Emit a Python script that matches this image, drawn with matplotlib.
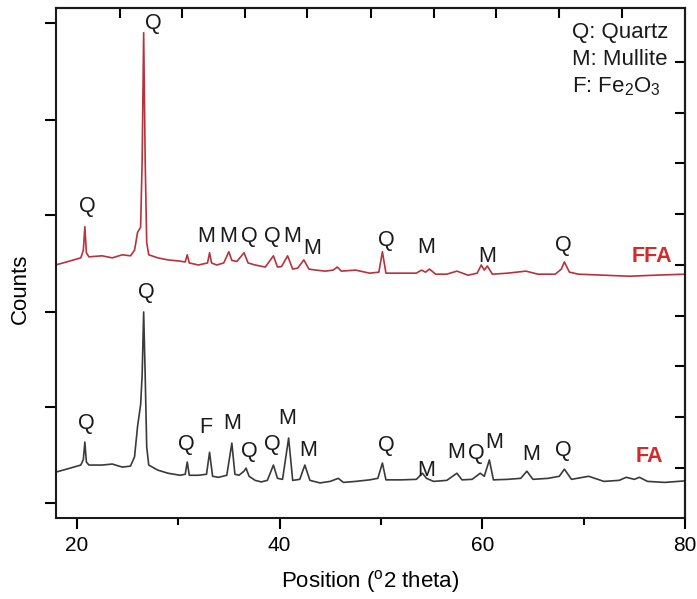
import numpy as np
import matplotlib
matplotlib.use("Agg")
import matplotlib.pyplot as plt

plt.rcParams['font.family'] = ['Liberation Sans', 'DejaVu Sans']
plt.rcParams['mathtext.fontset'] = 'custom'
plt.rcParams['mathtext.rm'] = 'Liberation Sans'
plt.rcParams['mathtext.it'] = 'Liberation Sans'

# XRD traces, 2 theta vs counts (arbitrary units)
ffa_x = [17.9, 19.0, 20.4, 20.65, 20.8, 20.95, 21.2, 22.5, 23.5, 24.5, 25.3, 25.7, 26.0, 26.3,
         26.45, 26.6, 26.75, 26.9, 27.1, 28.0, 29.0, 30.0, 30.7, 30.9, 31.1, 32.0, 32.9, 33.1,
         33.3, 33.8, 34.5, 35.0, 35.3, 35.8, 36.5, 36.9, 37.6, 38.6, 39.4, 39.8, 40.2, 40.8,
         41.3, 41.8, 42.4, 42.9, 43.6, 44.5, 45.3, 45.7, 46.1, 47.5, 48.9, 49.8, 50.15, 50.5,
         52.0, 53.5, 54.0, 54.4, 54.8, 55.4, 56.5, 57.5, 58.6, 59.5, 59.9, 60.2, 60.5, 61.0,
         62.5, 64.3, 65.5, 67.2, 67.8, 68.1, 68.6, 69.5, 72.0, 74.5, 77.0, 80.0]
ffa_y = [49.6, 50.2, 51.0, 52.5, 57.1, 52.0, 51.2, 51.4, 51.0, 51.6, 51.4, 52.5, 56.0, 57.0,
         70.0, 95.1, 70.0, 54.0, 51.6, 51.0, 50.6, 50.4, 50.2, 51.6, 50.0, 49.6, 50.0, 52.0,
         50.0, 49.6, 50.0, 52.2, 50.5, 50.3, 52.0, 50.0, 49.6, 49.2, 51.4, 49.2, 49.3, 51.4,
         48.8, 49.0, 50.6, 48.8, 48.6, 48.4, 48.6, 49.2, 48.4, 48.6, 48.0, 48.2, 52.2, 48.0,
         48.0, 48.0, 48.6, 48.2, 48.8, 47.8, 47.8, 48.4, 47.6, 48.0, 49.6, 48.6, 49.4, 47.8,
         48.0, 48.4, 47.8, 47.8, 48.8, 50.2, 48.2, 47.8, 47.6, 47.4, 47.6, 47.8]

fa_x = [17.9, 19.0, 20.4, 20.65, 20.8, 20.95, 21.2, 22.5, 23.5, 24.5, 25.3, 25.7, 26.0, 26.3,
        26.45, 26.6, 26.75, 26.9, 27.1, 28.0, 29.0, 30.2, 30.7, 30.9, 31.1, 32.0, 32.8, 33.1,
        33.4, 34.0, 34.8, 35.3, 35.6, 36.0, 36.5, 36.7, 37.0, 37.6, 38.2, 38.8, 39.4, 39.8,
        40.3, 40.9, 41.3, 42.0, 42.5, 43.0, 44.0, 45.0, 45.8, 46.3, 47.5, 48.9, 49.7, 50.15,
        50.5, 52.0, 53.5, 54.1, 54.5, 55.2, 56.5, 57.5, 58.0, 59.0, 59.8, 60.2, 60.7, 61.1,
        62.5, 63.8, 64.4, 65.0, 66.5, 67.6, 68.1, 68.8, 70.5, 72.0, 73.5, 74.2, 75.0, 75.5,
        76.3, 78.0, 80.0]
fa_y = [9.0, 9.6, 10.4, 11.5, 14.9, 11.0, 10.4, 10.4, 10.6, 10.0, 10.2, 12.0, 18.0, 22.2,
        28.0, 40.4, 28.0, 14.0, 10.4, 9.4, 8.8, 8.4, 8.6, 11.0, 8.4, 8.4, 8.6, 12.9,
        8.2, 8.0, 8.4, 14.7, 8.6, 8.4, 9.2, 9.8, 8.2, 7.4, 7.1, 7.4, 10.4, 7.8,
        7.6, 15.7, 7.4, 7.6, 10.4, 7.4, 6.9, 7.2, 7.8, 7.0, 7.2, 7.5, 7.8, 10.8,
        7.5, 7.5, 7.6, 8.8, 7.8, 7.2, 7.4, 8.8, 7.5, 7.6, 8.8, 8.2, 11.4, 7.5,
        7.6, 7.8, 9.2, 7.6, 7.8, 8.2, 9.6, 7.6, 8.2, 7.2, 7.4, 8.0, 7.6, 8.0,
        7.2, 7.0, 7.3]

# phase labels: (text, 2 theta, counts)
ffa_labels = [('Q', 21.0, 61.0), ('Q', 27.6, 96.9), ('M', 32.8, 55.1), ('M', 34.9, 55.1),
              ('Q', 37.0, 55.1), ('Q', 39.3, 55.1), ('M', 41.3, 55.1), ('M', 43.2, 52.9),
              ('Q', 50.5, 54.4), ('M', 54.5, 53.1), ('M', 60.5, 51.2), ('Q', 68.0, 53.5)]
fa_labels = [('Q', 20.9, 18.6), ('Q', 26.9, 44.3), ('Q', 30.8, 14.5), ('F', 32.7, 17.8),
             ('M', 35.3, 18.6), ('Q', 37.0, 13.1), ('Q', 39.3, 14.5), ('M', 40.8, 19.6),
             ('M', 42.8, 13.3), ('Q', 50.5, 14.3), ('M', 54.5, 9.4), ('M', 57.4, 12.9),
             ('Q', 59.4, 12.7), ('M', 61.2, 14.9), ('M', 64.8, 12.4), ('Q', 68.0, 13.3)]

key_lines = ['Q: Quartz', 'M: Mullite', r'F: Fe$_2$O$_3$']

left_ticks = [2.9, 21.8, 40.4, 59.4, 78.0, 97.1]
right_ticks = [9.8, 19.8, 29.8, 39.6, 49.6, 59.6, 69.6, 79.4, 89.4]
top_ticks = [24.24, 30.39, 36.55, 42.71, 49.06, 55.27, 61.38, 67.59, 73.79]

fig = plt.figure(figsize=(6.97, 5.99), dpi=100)
ax = fig.add_axes([0.0803, 0.135, 0.9025, 0.852])

ax.plot(ffa_x, ffa_y, color='#b8323c', lw=1.2)
ax.plot(fa_x, fa_y, color='#3a3a3a', lw=1.2)

for t, x, y in ffa_labels + fa_labels:
    ax.text(x, y, t, fontsize=15.5, ha='center', va='center', color='#1a1a1a')

ax.text(76.7, 51.2, 'FFA', fontsize=15.5, fontweight='bold', color='#d42a2a', ha='center', va='center')
ax.text(76.5, 12.0, 'FA', fontsize=15.5, fontweight='bold', color='#d42a2a', ha='center', va='center')

for i, s in enumerate(key_lines):
    ax.text(68.9, 95.1 - 5.3 * i, s, fontsize=16, ha='left', va='center', color='#1a1a1a')

ax.set_xlim(17.95, 80)
ax.set_ylim(0, 100)

ax.set_xticks([20, 40, 60, 80])
ax.set_xticks([30, 50, 70], minor=True)
ax.set_yticks(left_ticks)
ax.set_yticklabels([])
ax.tick_params(axis='x', which='major', direction='out', length=8, width=1.5, labelsize=15, pad=5)
ax.tick_params(axis='x', which='minor', direction='out', length=5, width=1.5)
ax.tick_params(axis='y', direction='out', length=8, width=1.5)

top = ax.secondary_xaxis('top')
top.set_xticks(top_ticks)
top.tick_params(direction='in', length=7, width=1.5, labeltop=False)
right = ax.secondary_yaxis('right')
right.set_yticks(right_ticks)
right.tick_params(direction='in', length=7, width=1.5, labelright=False)

for s in list(ax.spines.values()) + [top.spines['top'], right.spines['right']]:
    s.set_linewidth(1.5)
    s.set_color('#1a1a1a')

ax.set_xlabel(r'Position ($^{\rm o}$2 theta)', fontsize=16, labelpad=9)
ax.set_ylabel('Counts', fontsize=16)
ax.yaxis.set_label_coords(-0.04, 0.45)

fig.savefig('out.png', dpi=100)
